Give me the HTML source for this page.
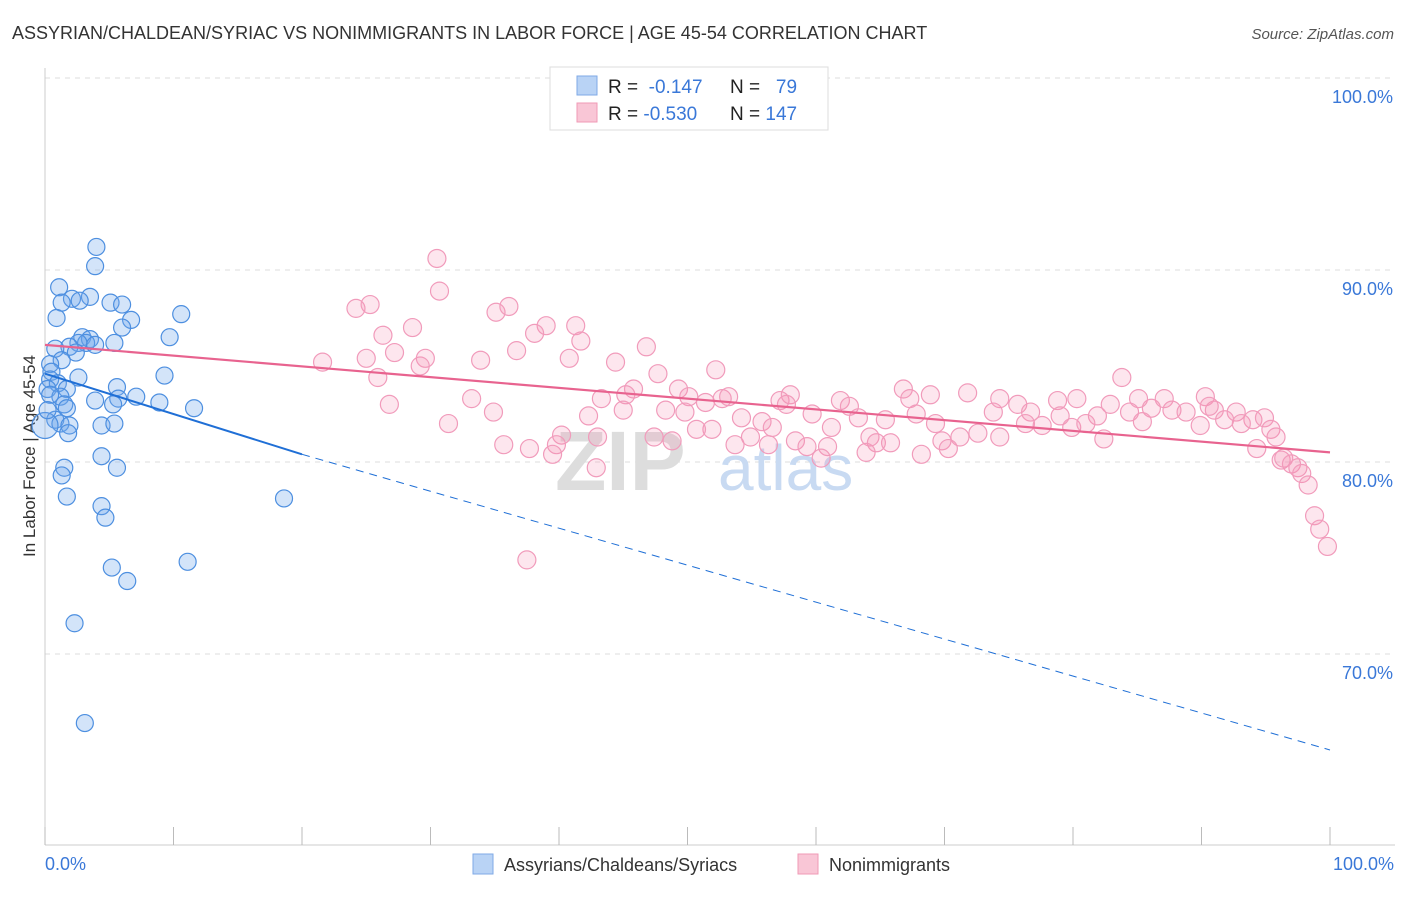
<!DOCTYPE html>
<html><head><meta charset="utf-8"><style>
body{margin:0;background:#fff;font-family:"Liberation Sans",sans-serif;}
svg text{font-family:"Liberation Sans",sans-serif;}
</style></head><body>
<svg width="1406" height="892" viewBox="0 0 1406 892" xmlns="http://www.w3.org/2000/svg">
<text x="12" y="39" font-size="18" fill="#333">ASSYRIAN/CHALDEAN/SYRIAC VS NONIMMIGRANTS IN LABOR FORCE | AGE 45-54 CORRELATION CHART</text>
<text x="1394" y="39" font-size="15" fill="#555" text-anchor="end" font-style="italic">Source: ZipAtlas.com</text>
<g id="grid"></g>
<g><text x="555" y="490" font-size="84" fill="#ddd" font-family="Liberation Serif" font-weight="bold">ZIP</text><text x="718" y="490" font-size="64" fill="#c8daf2">atlas</text></g>
<line x1="45" y1="68" x2="45" y2="845" stroke="#ccc"/>
<line x1="45" y1="845" x2="1395" y2="845" stroke="#ccc"/>
<g id="ticks"></g>
<g id="ylabels"></g>
<text x="35" y="456" font-size="17" fill="#333" text-anchor="middle" transform="rotate(-90 35 456)">In Labor Force | Age 45-54</text>
<text x="45" y="870" font-size="18" fill="#3a78d8">0.0%</text>
<text x="1394" y="870" font-size="18" fill="#3a78d8" text-anchor="end">100.0%</text>
<g id="pink"></g>
<g id="blue"></g>
<g id="trends"></g>
<g>
<rect x="550" y="67" width="278" height="63" fill="#fff" stroke="#ddd"/>
<rect x="577" y="76" width="20" height="19" fill="#b9d3f5" stroke="#7fa9e6"/>
<rect x="577" y="103" width="20" height="19" fill="#f9c6d6" stroke="#f09ab6"/>
<text x="608" y="93" font-size="19" fill="#222">R = <tspan fill="#3a78d8">&#160;-0.147</tspan></text>
<text x="730" y="93" font-size="19" fill="#222">N = <tspan fill="#3a78d8">&#160;&#160;79</tspan></text>
<text x="608" y="120" font-size="19" fill="#222">R = <tspan fill="#3a78d8">-0.530</tspan></text>
<text x="730" y="120" font-size="19" fill="#222">N = <tspan fill="#3a78d8">147</tspan></text>
</g>
<g>
<rect x="473" y="854" width="20" height="20" fill="#b9d3f5" stroke="#7fa9e6"/>
<text x="504" y="871" font-size="18" fill="#333">Assyrians/Chaldeans/Syriacs</text>
<rect x="798" y="854" width="20" height="20" fill="#f9c6d6" stroke="#f09ab6"/>
<text x="829" y="871" font-size="18" fill="#333">Nonimmigrants</text>
</g>
</svg>
<script>
const yTicks=[100,90,80,70];
const yTickLabels=["100.0%","90.0%","80.0%","70.0%"];
const xTicks=[0,10,20,30,40,50,60,70,80,90,100];
const blueX=[4.0,3.9,1.1,3.5,2.1,2.7,1.3,5.1,6.0,10.6,0.9,6.7,6.0,9.7,2.9,3.5,3.2,2.6,5.4,1.9,0.8,3.9,2.4,1.3,0.4,0.5,2.6,9.3,0.4,1.0,0.2,1.7,5.6,1.2,7.1,5.7,3.9,1.5,8.9,11.6,1.7,5.3,0.8,1.2,1.9,4.4,5.4,1.8,0.0,4.4,1.5,5.6,1.3,1.7,4.4,4.7,18.6,5.2,11.1,6.4,2.3,3.1,0.4,0.2];
const blueY=[91.2,90.2,89.1,88.6,88.5,88.4,88.3,88.3,88.2,87.7,87.5,87.4,87.0,86.5,86.5,86.4,86.2,86.2,86.2,86.0,85.9,86.1,85.7,85.3,85.1,84.7,84.4,84.5,84.3,84.1,83.8,83.8,83.9,83.4,83.4,83.3,83.2,83.0,83.1,82.8,82.8,83.0,82.2,82.0,81.9,81.9,82.0,81.5,81.9,80.3,79.7,79.7,79.3,78.2,77.7,77.1,78.1,74.5,74.8,73.8,71.6,66.4,83.5,82.7];
const pinkX=[30.5,30.7,24.2,25.3,35.1,36.1,39.0,41.3,28.6,26.3,38.1,41.7,46.8,36.7,27.2,25.0,29.6,21.6,33.9,40.8,44.4,29.2,47.7,52.2,25.9,83.8,45.8,49.3,43.3,45.2,50.1,51.4,52.7,53.2,33.2,26.8,57.2,58.0,57.7,61.9,62.6,66.8,67.3,68.9,71.8,74.3,75.7,78.8,80.3,82.9,85.1,87.1,90.3,34.9,42.3,45.0,48.3,49.8,54.2,55.8,59.7,63.3,65.4,67.8,73.8,76.7,79.0,81.9,84.4,86.1,87.7,88.8,91.0,92.7,94.0,94.9,31.4,51.9,50.7,56.6,61.2,69.3,71.2,76.3,77.6,79.9,81.0,85.4,89.9,91.8,93.1,95.4,40.2,43.0,47.4,54.9,64.2,69.8,72.6,74.3,82.4,95.8,35.7,39.8,48.8,53.7,56.3,58.4,59.3,60.9,64.7,65.8,70.3,37.7,39.5,60.4,63.9,68.2,94.3,96.2,96.4,97.0,97.5,97.8,98.3,98.8,99.2,99.8,42.9,37.5,90.6];
const pinkY=[90.6,88.9,88.0,88.2,87.8,88.1,87.1,87.1,87.0,86.6,86.7,86.3,86.0,85.8,85.7,85.4,85.4,85.2,85.3,85.4,85.2,85.0,84.6,84.8,84.4,84.4,83.8,83.8,83.3,83.5,83.4,83.1,83.3,83.4,83.3,83.0,83.2,83.5,83.0,83.2,82.9,83.8,83.3,83.5,83.6,83.3,83.0,83.2,83.3,83.0,83.3,83.3,83.4,82.6,82.4,82.7,82.7,82.6,82.3,82.1,82.5,82.3,82.2,82.5,82.6,82.6,82.4,82.4,82.6,82.8,82.7,82.6,82.7,82.6,82.2,82.3,82.0,81.7,81.7,81.8,81.8,82.0,81.3,82.0,81.9,81.8,82.0,82.1,81.9,82.2,82.0,81.7,81.4,81.3,81.3,81.3,81.3,81.1,81.5,81.3,81.2,81.3,80.9,80.9,81.1,80.9,80.9,81.1,80.8,80.8,81.0,81.0,80.7,80.7,80.4,80.2,80.5,80.4,80.7,80.1,80.2,79.9,79.7,79.4,78.8,77.2,76.5,75.6,79.7,74.9,82.9];
const blueTrend=[[0,84.6],[20,80.4],[100,65.0]];
const pinkTrend=[[0,86.1],[100,80.5]];
const NS="http://www.w3.org/2000/svg";
const X0=45,X1=1330,Ytop=78,Ybot=845,VMIN=60.05,VMAX=100;
function sx(v){return X0+(X1-X0)*v/100;}
function sy(v){return Ytop+(VMAX-v)/(VMAX-VMIN)*(Ybot-Ytop);}
function mk(tag,attrs,parent){const e=document.createElementNS(NS,tag);for(const k in attrs)e.setAttribute(k,attrs[k]);parent.appendChild(e);return e;}
const grid=document.getElementById('grid'),yl=document.getElementById('ylabels'),tk=document.getElementById('ticks');
yTicks.forEach((t,i)=>{
 const l=mk('line',{x1:45,x2:1395,y1:sy(t),y2:sy(t),stroke:'#ddd','stroke-dasharray':'5,5'},grid);
 
 
 const tx=mk('text',{x:1393,y:sy(t)+25,'font-size':18,fill:'#3a78d8','text-anchor':'end'},yl);
 tx.textContent=yTickLabels[i];
 
 
});
xTicks.forEach(t=>{
 const l=mk('line',{x1:sx(t),x2:sx(t),y1:827,y2:845,stroke:'#bbb'},tk);
 
 
});
const pg=document.getElementById('pink');
pinkX.forEach((v,i)=>{
 const c=mk('circle',{cx:sx(v),cy:sy(pinkY[i]),r:9,fill:'rgba(244,143,177,0.22)',stroke:'#f19bbb','stroke-width':1.2},pg);
 
 
});
const bg=document.getElementById('blue');
blueX.forEach((v,i)=>{
 const c=mk('circle',{cx:sx(v),cy:sy(blueY[i]),r:(v===0?13:8.5),fill:'rgba(110,165,235,0.3)',stroke:'#4d8fe0','stroke-width':1.2},bg);
 
 
});
const tg=document.getElementById('trends');
let a=mk('line',{x1:sx(blueTrend[0][0]),y1:sy(blueTrend[0][1]),x2:sx(blueTrend[1][0]),y2:sy(blueTrend[1][1]),stroke:'#1f6fd6','stroke-width':2},tg);


let b=mk('line',{x1:sx(blueTrend[1][0]),y1:sy(blueTrend[1][1]),x2:sx(blueTrend[2][0]),y2:sy(blueTrend[2][1]),stroke:'#1f6fd6','stroke-width':1,'stroke-dasharray':'8,6'},tg);


let p=mk('line',{x1:sx(pinkTrend[0][0]),y1:sy(pinkTrend[0][1]),x2:sx(pinkTrend[1][0]),y2:sy(pinkTrend[1][1]),stroke:'#e8638f','stroke-width':2.2},tg);


</script>
</body></html>
